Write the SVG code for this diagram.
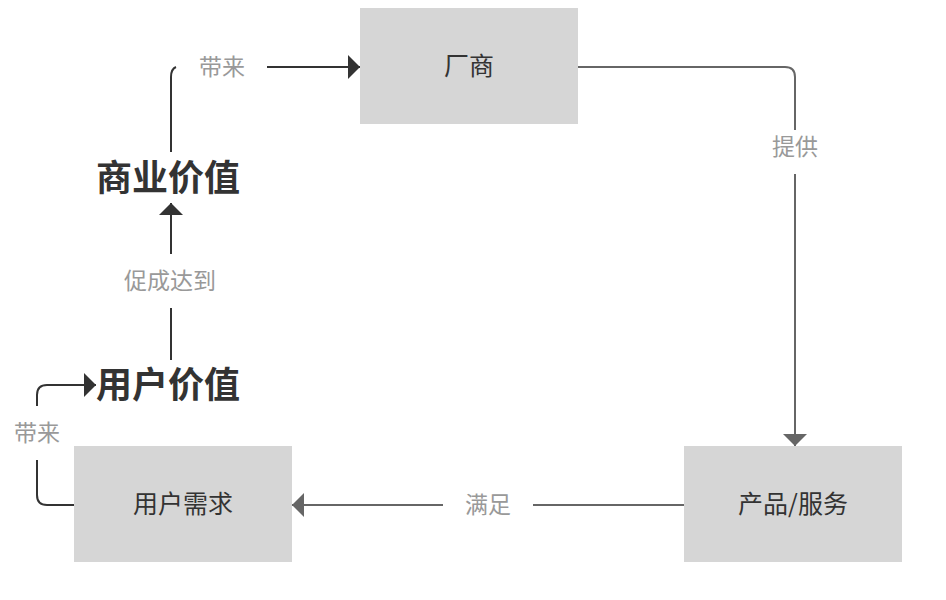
<svg xmlns="http://www.w3.org/2000/svg" width="946" height="600" viewBox="0 0 946 600">
<style>
.box{fill:#d6d6d6}
.nt{font-family:"Noto Sans CJK SC","Liberation Sans",sans-serif;font-size:25px;fill:#333;text-anchor:middle;dominant-baseline:central}
.big{font-family:"Noto Sans CJK SC","Liberation Sans",sans-serif;font-size:36px;font-weight:bold;fill:#333;text-anchor:middle;dominant-baseline:central}
.lb{font-family:"Noto Sans CJK SC","Liberation Sans",sans-serif;font-size:23px;fill:#999;text-anchor:middle;dominant-baseline:central}
.cd{fill:none;stroke:#333;stroke-width:2}
.cg{fill:none;stroke:#666;stroke-width:2}
</style>
<defs>
<marker id="ad" markerUnits="userSpaceOnUse" markerWidth="14" markerHeight="24" refX="12" refY="12" orient="auto"><path d="M0,0 L12,12 L0,24 Z" fill="#333"/></marker>
<marker id="ag" markerUnits="userSpaceOnUse" markerWidth="14" markerHeight="24" refX="12" refY="12" orient="auto"><path d="M0,0 L12,12 L0,24 Z" fill="#666"/></marker>
</defs>
<g id="connectors">
<path class="cg" d="M578,67 H785 Q795,67 795,77 V130"/>
<path class="cg" d="M795,174 V446" marker-end="url(#ag)"/>
<path class="cg" d="M684,505 H533"/>
<path class="cg" d="M443,505 H292" marker-end="url(#ag)"/>
<path class="cd" d="M74,505 H47 Q37,505 37,495 V460"/>
<path class="cd" d="M37,406 V395 Q37,385 47,385 H96" marker-end="url(#ad)"/>
<path class="cd" d="M171,360 V308"/>
<path class="cd" d="M171,254 V203" marker-end="url(#ad)"/>
<path class="cd" d="M171,152 V77 Q171,69 176,67"/>
<path class="cd" d="M267,67 H360" marker-end="url(#ad)"/>
<text class="lb" x="795" y="145">提供</text>
<text class="lb" x="488" y="503">满足</text>
<text class="lb" x="37" y="431">带来</text>
<text class="lb" x="170" y="279">促成达到</text>
<text class="lb" x="222" y="65">带来</text>
</g>
<g id="changshang"><rect class="box" x="360" y="8" width="218" height="116"/><text class="nt" x="469" y="64">厂商</text></g>
<g id="chanpin"><rect class="box" x="684" y="446" width="218" height="116"/><text class="nt" x="793" y="502">产品/服务</text></g>
<g id="xuqiu"><rect class="box" x="74" y="446" width="218" height="116"/><text class="nt" x="183" y="502">用户需求</text></g>
<g id="yonghujiazhi"><text class="big" x="168" y="382">用户价值</text></g>
<g id="shangyejiazhi"><text class="big" x="168" y="175">商业价值</text></g>
</svg>
